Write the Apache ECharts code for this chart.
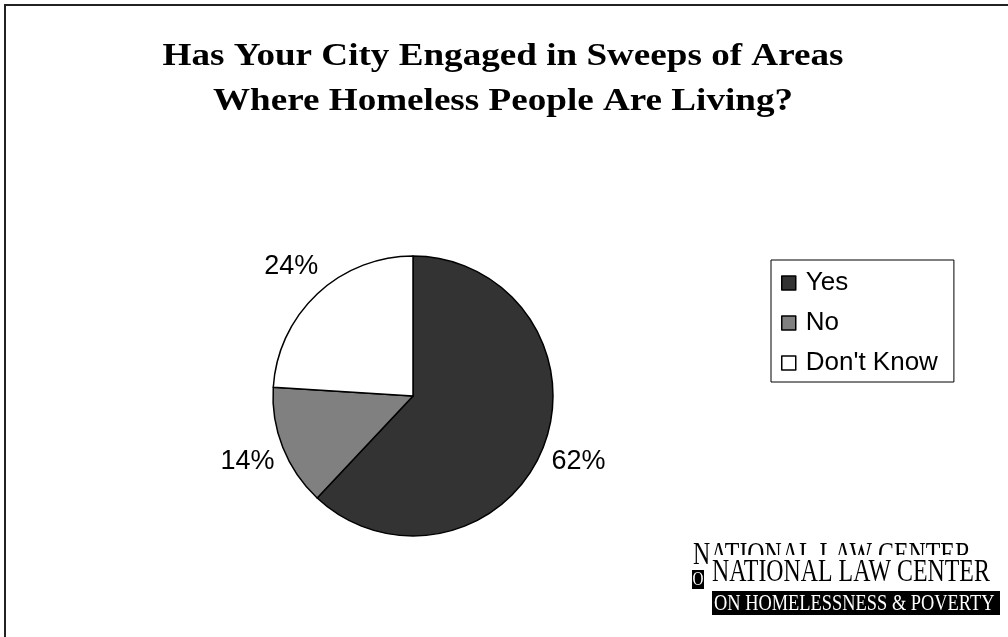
<!DOCTYPE html>
<html>
<head>
<meta charset="utf-8">
<style>
  html, body { margin: 0; padding: 0; background: #ffffff; }
  #chart { width: 1008px; height: 637px; }
</style>
<script src="https://cdn.jsdelivr.net/npm/echarts@6/dist/echarts.min.js"></script>
</head>
<body>
<div id="chart"></div>
<script>
// Survey answers and their shares (percent)
const categories = ["Yes", "No", "Don't Know"];
const shares = [62, 14, 24];
const sliceColors = ["#333333", "#808080", "#ffffff"];
const titleLines = ["Has Your City Engaged in Sweeps of Areas", "Where Homeless People Are Living?"];

const chart = echarts.init(document.getElementById('chart'), null, { renderer: 'canvas' });

const serif = '"Liberation Serif", "Times New Roman", serif';
const sans = '"Liberation Sans", Arial, sans-serif';

// headline, slightly widened like the original typesetting
const titleGraphics = titleLines.map((line, i) => ({
  type: 'text',
  x: 503,
  y: 57 + i * 45,
  scaleX: 1.16,
  style: {
    text: line, x: 0, y: 0,
    font: 'bold 32px ' + serif,
    fill: '#000000', align: 'center', verticalAlign: 'middle'
  }
}));

chart.setOption({
  backgroundColor: '#ffffff',
  animation: false,
  legend: {
    orient: 'vertical',
    left: 771,
    top: 260,
    padding: [10, 16, 6, 10],
    itemGap: 14,
    itemWidth: 14,
    itemHeight: 14,
    icon: 'rect',
    borderColor: '#000000',
    borderWidth: 1,
    backgroundColor: '#ffffff',
    itemStyle: { borderColor: '#000000', borderWidth: 1.5 },
    textStyle: { fontFamily: sans, fontSize: 26, color: '#000000', padding: [0, 0, 0, 5] },
    data: categories
  },
  series: [{
    type: 'pie',
    center: [413, 396],
    radius: 140,
    startAngle: 90,
    clockwise: true,
    data: categories.map((name, i) => ({
      name: name,
      value: shares[i],
      itemStyle: { color: sliceColors[i] }
    })),
    itemStyle: { borderColor: '#000000', borderWidth: 1.5 },
    label: {
      show: true,
      position: 'outside',
      formatter: '{c}%',
      fontFamily: sans,
      fontSize: 27,
      color: '#000000',
      distanceToLabelLine: 0
    },
    // labels sit centred on the end of an invisible radial leader
    labelLine: { show: false, length: 38, length2: 0 },
    labelLayout: function () {
      return { align: 'center', verticalAlign: 'middle' };
    },
    emphasis: { disabled: true }
  }],
  graphic: titleGraphics.concat([
    // outer frame
    {
      type: 'rect',
      shape: { x: 5, y: 5, width: 1100, height: 1000 },
      style: { fill: 'none', stroke: '#222222', lineWidth: 2 },
      silent: true
    },
    // logo: upper wordmark, partly covered by the lower one
    {
      type: 'text',
      x: 693, y: 556,
      scaleX: 0.77,
      style: { text: 'NATIONAL LAW CENTER', x: 0, y: 0, font: '31px ' + serif, fill: '#000000', align: 'left', verticalAlign: 'middle' }
    },
    {
      type: 'rect',
      shape: { x: 708, y: 555, width: 300, height: 36 },
      style: { fill: '#ffffff' }
    },
    {
      type: 'rect',
      shape: { x: 692, y: 570, width: 12, height: 19 },
      style: { fill: '#000000' }
    },
    {
      type: 'text',
      x: 698, y: 580,
      scaleX: 0.8,
      style: { text: 'O', x: 0, y: 0, font: '19px ' + serif, fill: '#ffffff', align: 'center', verticalAlign: 'middle' }
    },
    {
      type: 'text',
      x: 712, y: 573,
      scaleX: 0.77,
      style: { text: 'NATIONAL LAW CENTER', x: 0, y: 0, font: '31px ' + serif, fill: '#000000', align: 'left', verticalAlign: 'middle' }
    },
    {
      type: 'rect',
      shape: { x: 712, y: 591, width: 288, height: 24 },
      style: { fill: '#000000' }
    },
    {
      type: 'text',
      x: 714, y: 604,
      scaleX: 0.8,
      style: { text: 'ON HOMELESSNESS & POVERTY', x: 0, y: 0, font: '23px ' + serif, fill: '#ffffff', align: 'left', verticalAlign: 'middle' }
    }
  ])
});
</script>
</body>
</html>
